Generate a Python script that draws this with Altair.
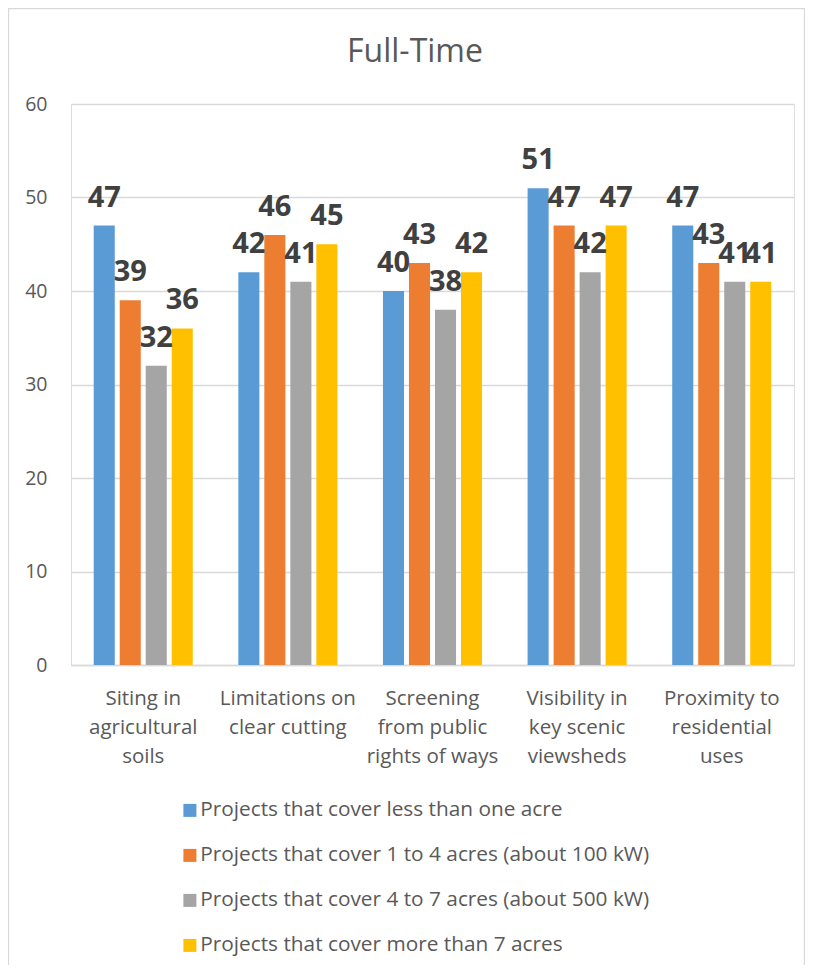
import altair as alt
import pandas as pd

# ---- data ----
title_text = "Full-Time"
category_lines = [
    ["Siting in", "agricultural", "soils"],
    ["Limitations on", "clear cutting"],
    ["Screening", "from public", "rights of ways"],
    ["Visibility in", "key scenic", "viewsheds"],
    ["Proximity to", "residential", "uses"],
]
categories = [" ".join(l) for l in category_lines]

series = [
    "Projects that cover less than one acre",
    "Projects that cover 1 to 4 acres (about 100 kW)",
    "Projects that cover 4 to 7 acres (about 500 kW)",
    "Projects that cover more than 7 acres",
]
less_than_one_acre = [47, 42, 40, 51, 47]
one_to_four_acres = [39, 46, 43, 47, 43]
four_to_seven_acres = [32, 41, 38, 42, 41]
more_than_seven_acres = [36, 45, 42, 47, 41]
colors = ["#5B9BD5", "#ED7D31", "#A5A5A5", "#FFC000"]
y_ticks = [0, 10, 20, 30, 40, 50, 60]

values_by_series = [less_than_one_acre, one_to_four_acres, four_to_seven_acres, more_than_seven_acres]
rows = []
for s, vals in zip(series, values_by_series):
    for c, v in zip(categories, vals):
        rows.append({"category": c, "series": s, "value": v})
df = pd.DataFrame(rows)

# label expression for multi-line category labels
expr = "datum.label"
for name, lines in reversed(list(zip(categories, category_lines))):
    arr = "[" + ",".join("'" + l + "'" for l in lines) + "]"
    expr = f"datum.label == '{name}' ? {arr} : ({expr})"

FONT = "Open Sans"
TXT = "#595959"

x_enc = alt.X(
    "category:N",
    sort=categories,
    scale=alt.Scale(paddingInner=0.315, paddingOuter=0.157),
    axis=alt.Axis(
        title=None,
        labelExpr=expr,
        labelAngle=0,
        labelFont=FONT,
        labelFontSize=20.5,
        labelColor=TXT,
        labelLineHeight=29,
        labelPadding=23,
        labelBaseline="top",
        ticks=False,
        domain=True,
        domainColor="#D9D9D9",
        domainWidth=1.3,
        grid=False,
        labelLimit=300,
    ),
)
y_enc = alt.Y(
    "value:Q",
    scale=alt.Scale(domain=[0, 60], nice=False, zero=True),
    axis=alt.Axis(
        title=None,
        values=y_ticks,
        labelFont=FONT,
        labelFontSize=19.5,
        labelColor=TXT,
        labelPadding=24,
        ticks=False,
        domain=False,
        grid=True,
        gridColor="#D9D9D9",
        gridWidth=1.3,
    ),
)
xoff = alt.XOffset("series:N", sort=series, scale=alt.Scale(paddingInner=0.19, paddingOuter=0))

base = alt.Chart(df)

bars = base.mark_bar().encode(
    x=x_enc,
    y=y_enc,
    xOffset=xoff,
    color=alt.Color(
        "series:N",
        sort=series,
        scale=alt.Scale(domain=series, range=colors),
        legend=alt.Legend(
            title=None,
            orient="none",
            legendX=108.5,
            legendY=696,
            direction="vertical",
            symbolType="square",
            symbolSize=169,
            symbolStrokeWidth=0,
            labelFont=FONT,
            labelFontSize=20.8,
            labelColor=TXT,
            labelOffset=0,
            labelLimit=700,
            rowPadding=23,
            padding=0,
        ),
    ),
)

labels = base.mark_text(
    font=FONT,
    fontSize=29,
    fontWeight="bold",
    color="#404040",
    baseline="alphabetic",
    align="center",
    dy=-19,
).encode(
    x=alt.X("category:N", sort=categories),
    y=alt.Y("value:Q"),
    xOffset=xoff,
    text=alt.Text("value:Q"),
)

title = alt.Chart(alt.Data(values=[{"t": title_text}])).mark_text(
    font=FONT,
    fontSize=32,
    color=TXT,
    align="center",
    baseline="alphabetic",
).encode(
    text="t:N",
    x=alt.value(344),
    y=alt.value(-42),
)

border = alt.Chart(alt.Data(values=[{"b": 1}])).mark_rect(
    fill=None, stroke="#D9D9D9", strokeWidth=1.3
).encode(
    x=alt.value(-62.5),
    x2=alt.value(733.5),
    y=alt.value(-95.5),
    y2=alt.value(900),
)

chart = (
    alt.layer(border, bars, labels, title)
    .properties(
        width=723,
        height=561,
        autosize=alt.AutoSizeParams(type="none"),
        padding={"left": 63, "top": 96, "right": 11, "bottom": 300},
    )
    .configure_view(stroke=None)
    .configure(background="white")
)

chart.save("out.html", embed_options={"renderer": "svg", "actions": False})
